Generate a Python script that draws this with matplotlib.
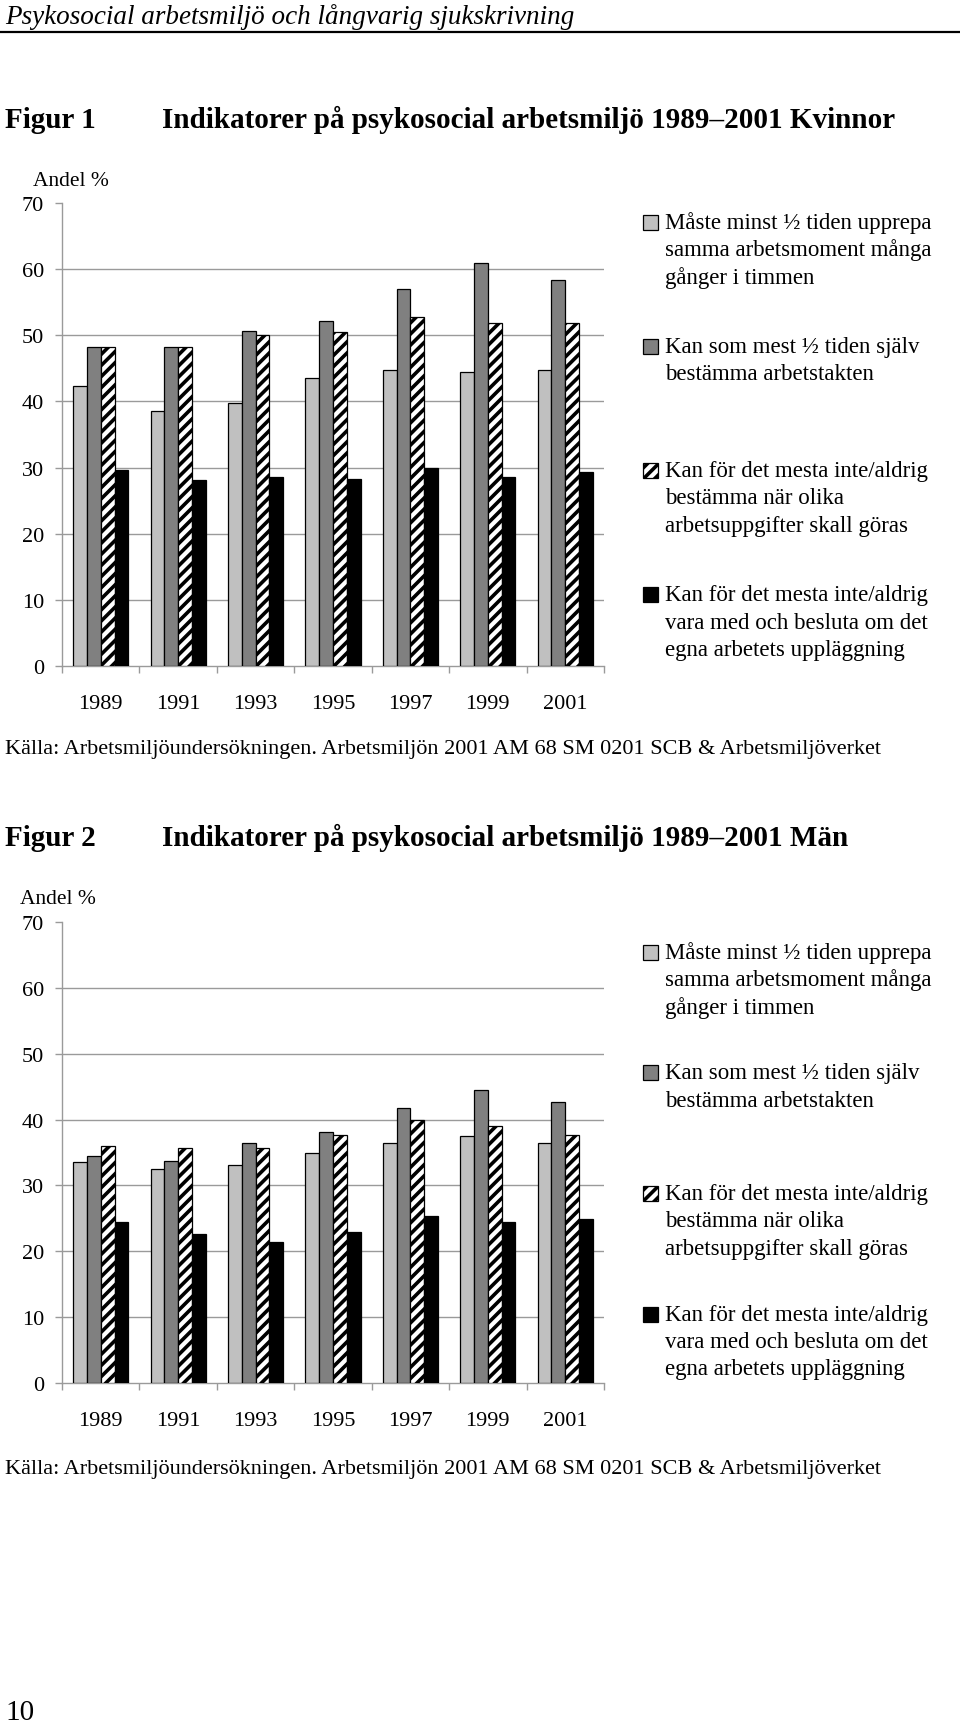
import numpy as np
import matplotlib
matplotlib.use("Agg")
import matplotlib.pyplot as plt
from matplotlib.patches import Rectangle

plt.rcParams['font.family'] = ['Liberation Serif', 'DejaVu Serif']
plt.rcParams['hatch.linewidth'] = 2.6
plt.rcParams['hatch.color'] = 'black'

years = ['1989', '1991', '1993', '1995', '1997', '1999', '2001']

# Figur 1, Kvinnor
kv_upprepa = [42.4, 38.6, 39.7, 43.5, 44.7, 44.4, 44.8]
kv_takt = [48.3, 48.3, 50.7, 52.1, 57.0, 60.9, 58.4]
kv_nar = [48.3, 48.3, 50.1, 50.5, 52.8, 51.9, 51.9]
kv_besluta = [29.7, 28.1, 28.6, 28.3, 29.9, 28.6, 29.3]

# Figur 2, Män
man_upprepa = [33.6, 32.5, 33.1, 34.9, 36.5, 37.5, 36.5]
man_takt = [34.4, 33.7, 36.4, 38.1, 41.8, 44.5, 42.7]
man_nar = [36.0, 35.7, 35.7, 37.6, 40.0, 39.0, 37.6]
man_besluta = [24.5, 22.7, 21.4, 22.9, 25.3, 24.5, 24.9]

legend_lines = [
    ['Måste minst ½ tiden upprepa', 'samma arbetsmoment många', 'gånger i timmen'],
    ['Kan som mest ½ tiden själv', 'bestämma arbetstakten'],
    ['Kan för det mesta inte/aldrig', 'bestämma när olika', 'arbetsuppgifter skall göras'],
    ['Kan för det mesta inte/aldrig', 'vara med och besluta om det', 'egna arbetets uppläggning'],
]

styles = [
    dict(color='#c0c0c0', hatch=None),
    dict(color='#808080', hatch=None),
    dict(color='white', hatch='///'),
    dict(color='black', hatch=None),
]

source = 'Källa: Arbetsmiljöundersökningen. Arbetsmiljön 2001 AM 68 SM 0201 SCB & Arbetsmiljöverket'

W, H = 960, 1724
fig = plt.figure(figsize=(W / 100, H / 100), dpi=100)


def fx(px):
    return px / W


def fy(py):
    return 1 - py / H


def draw_chart(top, bottom, series):
    ax = fig.add_axes([fx(62), fy(bottom), fx(604 - 62), (bottom - top) / H])
    x = np.arange(len(years))
    w = 0.714 / 4
    for i, (vals, st) in enumerate(zip(series, styles)):
        ax.bar(x + (i - 1.5) * w, vals, width=w, color=st['color'], hatch=st['hatch'],
               edgecolor='black', linewidth=0.9, zorder=3)
    ax.set_xlim(-0.5, len(years) - 0.5)
    ax.set_ylim(0, 70)
    ax.set_yticks(range(0, 80, 10))
    ax.set_yticklabels([str(v) for v in range(0, 80, 10)], fontsize=16)
    ax.yaxis.grid(True, color='#9a9a9a', linewidth=1.0, zorder=0)
    ax.get_ygridlines()[-1].set_visible(False)
    ax.get_ygridlines()[0].set_visible(False)
    ax.set_axisbelow(True)
    ax.set_xticks(np.arange(-0.5, len(years), 1.0))
    ax.set_xticklabels([])
    ax.set_xticks(x, minor=True)
    ax.set_xticklabels(years, minor=True, fontsize=16)
    ax.tick_params(axis='x', which='major', direction='out', length=5, color='#9a9a9a', width=1)
    ax.tick_params(axis='x', which='minor', length=0, pad=20)
    ax.tick_params(axis='y', direction='out', length=5, color='#9a9a9a', width=1, pad=8)
    for s in ['top', 'right']:
        ax.spines[s].set_visible(False)
    for s in ['left', 'bottom']:
        ax.spines[s].set_color('#9a9a9a')
        ax.spines[s].set_linewidth(1.0)
    return ax


def draw_legend(first_y, step):
    for k, lines in enumerate(legend_lines):
        y0 = first_y + k * step
        st = styles[k]
        fig.add_artist(Rectangle((fx(643), fy(y0 + 7.5)), fx(15), 15 / H,
                                 transform=fig.transFigure, facecolor=st['color'],
                                 hatch=st['hatch'], edgecolor='black', linewidth=0.9))
        for j, line in enumerate(lines):
            fig.text(fx(665), fy(y0 + j * 27.4), line, fontsize=16.5, va='center', ha='left')


# page header
fig.text(fx(5), fy(24), 'Psykosocial arbetsmiljö och långvarig sjukskrivning',
         fontsize=19.5, style='italic', va='baseline')
fig.add_artist(plt.Line2D([0, 1], [fy(33), fy(33)], color='black', linewidth=1.6,
                          transform=fig.transFigure))

# Figur 1
fig.text(fx(5), fy(128), 'Figur 1', fontsize=21, weight='bold', va='baseline')
fig.text(fx(162), fy(128), 'Indikatorer på psykosocial arbetsmiljö 1989–2001 Kvinnor',
         fontsize=21, weight='bold', va='baseline')
fig.text(fx(33), fy(186), 'Andel %', fontsize=15.5, va='baseline')
draw_chart(204, 667, [kv_upprepa, kv_takt, kv_nar, kv_besluta])
draw_legend(223, 124.3)
fig.text(fx(5), fy(754), source, fontsize=16, va='baseline')

# Figur 2
fig.text(fx(5), fy(846), 'Figur 2', fontsize=21, weight='bold', va='baseline')
fig.text(fx(162), fy(846), 'Indikatorer på psykosocial arbetsmiljö 1989–2001 Män',
         fontsize=21, weight='bold', va='baseline')
fig.text(fx(20), fy(904), 'Andel %', fontsize=15.5, va='baseline')
draw_chart(923, 1384, [man_upprepa, man_takt, man_nar, man_besluta])
draw_legend(953, 120.7)
fig.text(fx(5), fy(1474), source, fontsize=16, va='baseline')

# page number
fig.text(fx(5), fy(1720), '10', fontsize=21, va='baseline')

fig.savefig('out.png', dpi=100)
